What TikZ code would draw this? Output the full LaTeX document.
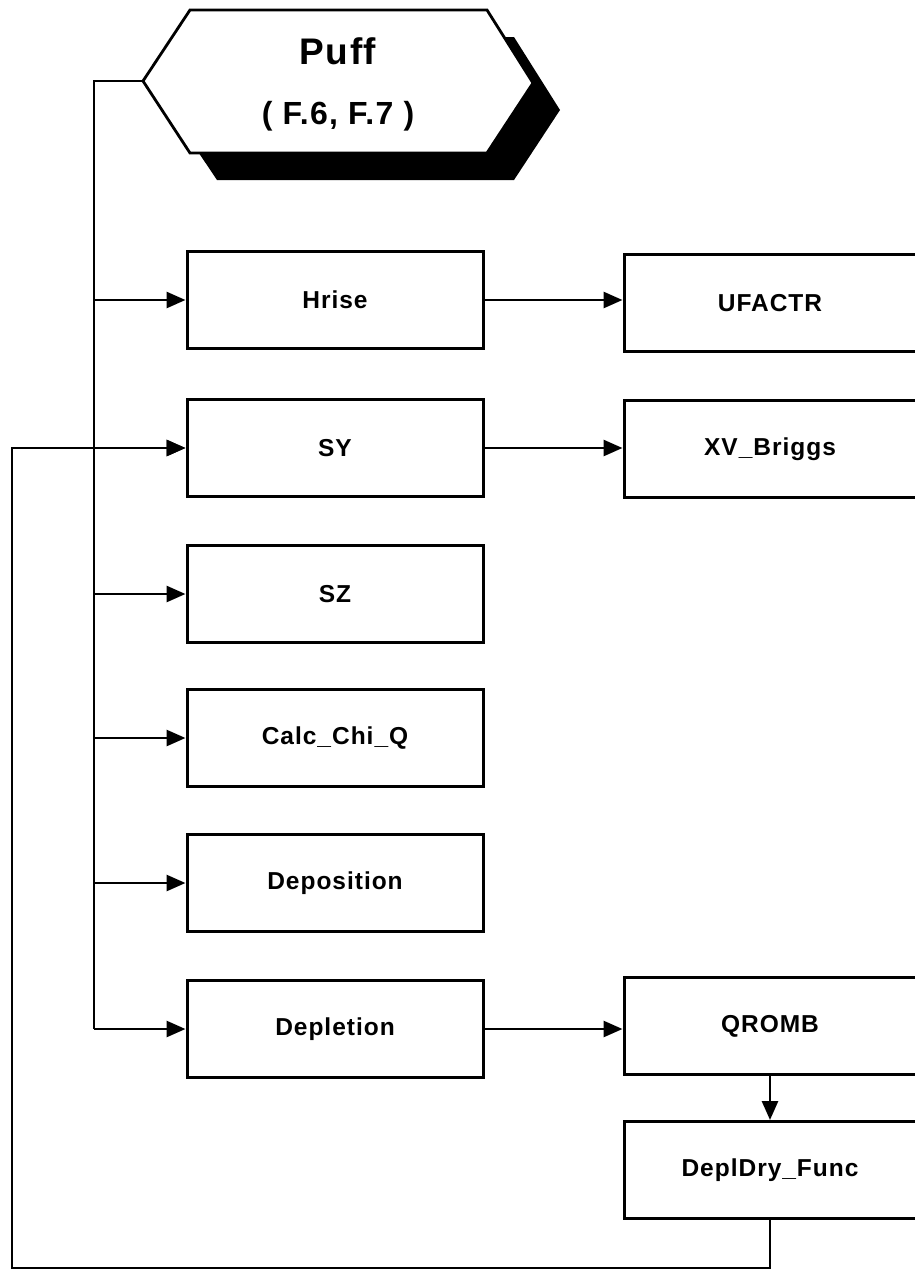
\documentclass[tikz,border=0pt]{standalone}
\usepackage{fontspec}
\setmainfont{Liberation Sans}[LetterSpace=4]
\usetikzlibrary{arrows.meta}
\begin{document}
\begin{tikzpicture}[x=1pt,y=-1pt,
  box/.style={draw, line width=3pt, minimum width=296pt, minimum height=97pt, inner sep=0pt,
    font=\bfseries\fontsize{24.5}{28}\selectfont},
  rbox/.style={box, minimum width=292pt},
  wire/.style={line width=2.8pt},
  arr/.style={wire, -{Triangle[length=19pt,width=16pt]}}]
\useasboundingbox (0,0) rectangle (915,1275);
\clip (0,0) rectangle (915,1275);
% hexagon shadow and body
\fill[black] (217,37) -- (514,37) -- (560,110) -- (514,180) -- (217,180) -- (170,110) -- cycle;
\coordinate (hexL) at (143,81);
\draw[wire, line join=miter, fill=white] (190,10) -- (487,10) -- (533,83) -- (487,153) -- (190,153) -- (hexL) -- cycle;
\node[font=\bfseries\fontsize{32}{60}\selectfont, align=center, inner sep=0pt] (puff) at (338,84)
  {{\fontsize{37}{60}\selectfont Puff}\\( F.6, F.7 )};
% left column
\node[box] (hrise) at (335,300) {Hrise};
\node[box] (sy) at (335,448) {SY};
\node[box] (sz) at (335,594) {SZ};
\node[box] (calc) at (335,738) {Calc\_Chi\_Q};
\node[box] (depo) at (335,883) {Deposition};
\node[box] (depl) at (335,1029) {Depletion};
% right column
\node[rbox] (ufactr) at (770,303) {UFACTR};
\node[rbox] (xv) at (770,449) {XV\_Briggs};
\node[rbox] (qromb) at (770,1026) {QROMB};
\node[rbox] (dry) at (770,1170) {DeplDry\_Func};
% trunk
\coordinate (tTop) at (94,81);
\coordinate (tBot) at (94,1029);
\draw[wire] (hexL) -- (tTop) -- (tBot);
\foreach \n in {hrise,sy,sz,calc,depo,depl}
  \draw[arr] (94,0 |- \n.west) -- (\n.west);
\draw[arr] (hrise.east) -- (ufactr.west |- hrise.east);
\draw[arr] (sy.east) -- (xv.west |- sy.east);
\draw[arr] (depl.east) -- (qromb.west |- depl.east);
\draw[arr] (qromb.south) -- (dry.north);
% feedback loop
\coordinate (fb1) at (770,1268);
\coordinate (fb2) at (12,1268);
\coordinate (fb3) at (12,448);
\draw[arr] (dry.south) -- (fb1) -- (fb2) -- (fb3) -- (sy.west);
\end{tikzpicture}
\end{document}
